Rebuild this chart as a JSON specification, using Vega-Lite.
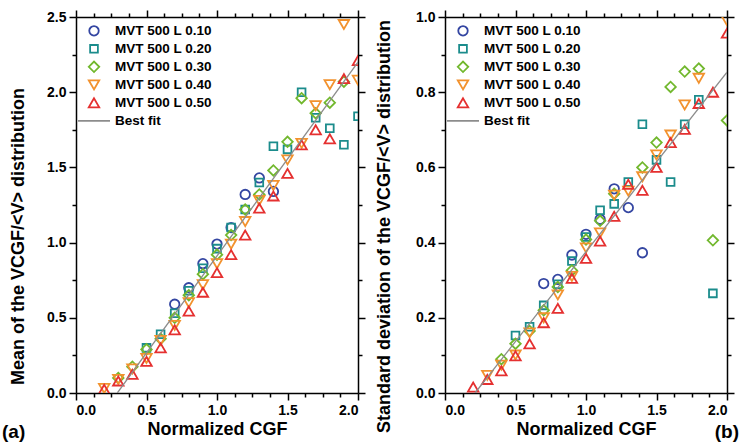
{
  "$schema": "https://vega.github.io/schema/vega-lite/v6.json",
  "background": "white",
  "padding": {"left": 2, "top": 9, "right": 3, "bottom": 0},
  "spacing": 9,
  "config": {
    "font": "Liberation Sans",
    "view": {"stroke": null},
    "axis": {
      "domainColor": "black", "domainWidth": 1.5, "tickColor": "black", "tickWidth": 1.5,
      "labelFont": "Liberation Sans", "labelFontSize": 14, "labelFontWeight": "bold", "labelColor": "black",
      "titleFont": "Liberation Sans", "titleFontSize": 18, "titleFontWeight": "bold", "titleColor": "black",
      "grid": false, "tickSize": 7, "labelPadding": 3
    },
    "legend": {
      "labelFont": "Liberation Sans", "labelFontSize": 13.5, "labelFontWeight": "bold", "labelColor": "black",
      "symbolStrokeWidth": 1.8, "labelOffset": 4, "rowPadding": 0, "padding": 0, "clipHeight": 17.7
    }
  },
  "datasets": {
    "a": [
      {"s":"0.10","x":0.7,"y":0.59},{"s":"0.10","x":0.8,"y":0.70},{"s":"0.10","x":0.9,"y":0.86},{"s":"0.10","x":1.0,"y":0.99},{"s":"0.10","x":1.1,"y":1.10},{"s":"0.10","x":1.2,"y":1.32},{"s":"0.10","x":1.3,"y":1.43},{"s":"0.10","x":1.4,"y":1.34},
      {"s":"0.20","x":0.5,"y":0.30},{"s":"0.20","x":0.6,"y":0.39},{"s":"0.20","x":0.7,"y":0.53},{"s":"0.20","x":0.8,"y":0.68},{"s":"0.20","x":0.9,"y":0.83},{"s":"0.20","x":1.0,"y":0.96},{"s":"0.20","x":1.1,"y":1.10},{"s":"0.20","x":1.2,"y":1.22},{"s":"0.20","x":1.3,"y":1.40},{"s":"0.20","x":1.4,"y":1.64},{"s":"0.20","x":1.5,"y":1.62},{"s":"0.20","x":1.6,"y":2.00},{"s":"0.20","x":1.7,"y":1.83},{"s":"0.20","x":1.8,"y":1.76},{"s":"0.20","x":1.9,"y":1.65},{"s":"0.20","x":2.0,"y":1.84},
      {"s":"0.30","x":0.3,"y":0.10},{"s":"0.30","x":0.4,"y":0.175},{"s":"0.30","x":0.5,"y":0.29},{"s":"0.30","x":0.6,"y":0.36},{"s":"0.30","x":0.7,"y":0.50},{"s":"0.30","x":0.8,"y":0.65},{"s":"0.30","x":0.9,"y":0.79},{"s":"0.30","x":1.0,"y":0.92},{"s":"0.30","x":1.1,"y":1.05},{"s":"0.30","x":1.2,"y":1.22},{"s":"0.30","x":1.3,"y":1.32},{"s":"0.30","x":1.4,"y":1.48},{"s":"0.30","x":1.5,"y":1.67},{"s":"0.30","x":1.6,"y":1.96},{"s":"0.30","x":1.7,"y":1.86},{"s":"0.30","x":1.8,"y":1.93},{"s":"0.30","x":1.9,"y":2.07},
      {"s":"0.40","x":0.2,"y":0.03},{"s":"0.40","x":0.3,"y":0.09},{"s":"0.40","x":0.4,"y":0.16},{"s":"0.40","x":0.5,"y":0.23},{"s":"0.40","x":0.6,"y":0.35},{"s":"0.40","x":0.7,"y":0.45},{"s":"0.40","x":0.8,"y":0.60},{"s":"0.40","x":0.9,"y":0.72},{"s":"0.40","x":1.0,"y":0.86},{"s":"0.40","x":1.1,"y":0.99},{"s":"0.40","x":1.2,"y":1.14},{"s":"0.40","x":1.3,"y":1.28},{"s":"0.40","x":1.4,"y":1.38},{"s":"0.40","x":1.5,"y":1.55},{"s":"0.40","x":1.6,"y":1.66},{"s":"0.40","x":1.7,"y":1.91},{"s":"0.40","x":1.8,"y":2.05},{"s":"0.40","x":1.9,"y":2.45},{"s":"0.40","x":2.0,"y":2.08},
      {"s":"0.50","x":0.2,"y":0.025},{"s":"0.50","x":0.3,"y":0.08},{"s":"0.50","x":0.4,"y":0.124},{"s":"0.50","x":0.5,"y":0.21},{"s":"0.50","x":0.6,"y":0.30},{"s":"0.50","x":0.7,"y":0.42},{"s":"0.50","x":0.8,"y":0.545},{"s":"0.50","x":0.9,"y":0.67},{"s":"0.50","x":1.0,"y":0.80},{"s":"0.50","x":1.1,"y":0.92},{"s":"0.50","x":1.2,"y":1.05},{"s":"0.50","x":1.3,"y":1.23},{"s":"0.50","x":1.4,"y":1.31},{"s":"0.50","x":1.5,"y":1.46},{"s":"0.50","x":1.6,"y":1.65},{"s":"0.50","x":1.7,"y":1.75},{"s":"0.50","x":1.8,"y":1.69},{"s":"0.50","x":1.9,"y":2.09},{"s":"0.50","x":2.0,"y":2.21}
    ],
    "b": [
      {"s":"0.10","x":0.7,"y":0.291},{"s":"0.10","x":0.8,"y":0.302},{"s":"0.10","x":0.9,"y":0.367},{"s":"0.10","x":1.0,"y":0.422},{"s":"0.10","x":1.1,"y":0.462},{"s":"0.10","x":1.2,"y":0.543},{"s":"0.10","x":1.3,"y":0.493},{"s":"0.10","x":1.4,"y":0.373},
      {"s":"0.20","x":0.5,"y":0.153},{"s":"0.20","x":0.6,"y":0.176},{"s":"0.20","x":0.7,"y":0.233},{"s":"0.20","x":0.8,"y":0.289},{"s":"0.20","x":0.9,"y":0.351},{"s":"0.20","x":1.0,"y":0.415},{"s":"0.20","x":1.1,"y":0.486},{"s":"0.20","x":1.2,"y":0.503},{"s":"0.20","x":1.3,"y":0.561},{"s":"0.20","x":1.4,"y":0.715},{"s":"0.20","x":1.5,"y":0.62},{"s":"0.20","x":1.6,"y":0.561},{"s":"0.20","x":1.7,"y":0.715},{"s":"0.20","x":1.8,"y":0.78},{"s":"0.20","x":1.9,"y":0.265},
      {"s":"0.30","x":0.4,"y":0.09},{"s":"0.30","x":0.5,"y":0.131},{"s":"0.30","x":0.6,"y":0.165},{"s":"0.30","x":0.7,"y":0.22},{"s":"0.30","x":0.8,"y":0.282},{"s":"0.30","x":0.9,"y":0.326},{"s":"0.30","x":1.0,"y":0.408},{"s":"0.30","x":1.1,"y":0.458},{"s":"0.30","x":1.2,"y":0.53},{"s":"0.30","x":1.4,"y":0.60},{"s":"0.30","x":1.5,"y":0.666},{"s":"0.30","x":1.6,"y":0.814},{"s":"0.30","x":1.7,"y":0.855},{"s":"0.30","x":1.8,"y":0.863},{"s":"0.30","x":1.9,"y":0.406},{"s":"0.30","x":2.0,"y":0.725},
      {"s":"0.40","x":0.3,"y":0.047},{"s":"0.40","x":0.4,"y":0.074},{"s":"0.40","x":0.5,"y":0.101},{"s":"0.40","x":0.6,"y":0.16},{"s":"0.40","x":0.7,"y":0.20},{"s":"0.40","x":0.8,"y":0.261},{"s":"0.40","x":0.9,"y":0.31},{"s":"0.40","x":1.0,"y":0.386},{"s":"0.40","x":1.1,"y":0.426},{"s":"0.40","x":1.2,"y":0.526},{"s":"0.40","x":1.3,"y":0.537},{"s":"0.40","x":1.4,"y":0.575},{"s":"0.40","x":1.5,"y":0.633},{"s":"0.40","x":1.6,"y":0.686},{"s":"0.40","x":1.7,"y":0.766},{"s":"0.40","x":1.8,"y":0.837},{"s":"0.40","x":2.0,"y":0.99},
      {"s":"0.50","x":0.2,"y":0.016},{"s":"0.50","x":0.3,"y":0.036},{"s":"0.50","x":0.4,"y":0.059},{"s":"0.50","x":0.5,"y":0.099},{"s":"0.50","x":0.6,"y":0.131},{"s":"0.50","x":0.7,"y":0.187},{"s":"0.50","x":0.8,"y":0.225},{"s":"0.50","x":0.9,"y":0.305},{"s":"0.50","x":1.0,"y":0.358},{"s":"0.50","x":1.1,"y":0.404},{"s":"0.50","x":1.2,"y":0.47},{"s":"0.50","x":1.3,"y":0.555},{"s":"0.50","x":1.4,"y":0.539},{"s":"0.50","x":1.5,"y":0.60},{"s":"0.50","x":1.6,"y":0.666},{"s":"0.50","x":1.7,"y":0.701},{"s":"0.50","x":1.8,"y":0.77},{"s":"0.50","x":1.9,"y":0.80},{"s":"0.50","x":2.0,"y":0.957}
    ],
    "fa": [{"s":"Best fit","x":0.293,"y":0},{"s":"Best fit","x":2.0,"y":2.2}],
    "fb": [{"s":"Best fit","x":0.213,"y":0},{"s":"Best fit","x":2.0,"y":0.853}]
  },
  "hconcat": [
    {
      "width": 282, "height": 376,
      "title": {"text": "(a)", "orient": "bottom", "anchor": "start", "frame": "group", "offset": -15, "dx": -74, "fontSize": 19, "fontWeight": "bold", "font": "Liberation Sans", "color": "black"},
      "layer": [
        {
          "data": {"name": "a"},
          "mark": {"type": "point", "filled": false, "strokeWidth": 1.8, "clip": true, "opacity": 1},
          "encoding": {
            "x": {"field": "x", "type": "quantitative", "scale": {"domain": [0, 2], "nice": false}, "axis": {"orient": "bottom", "values": [0, 0.5, 1, 1.5, 2], "format": ".1f", "title": "Normalized CGF", "titlePadding": 3}},
            "y": {"field": "y", "type": "quantitative", "scale": {"domain": [0, 2.5], "nice": false}, "axis": {"orient": "left", "values": [0, 0.5, 1, 1.5, 2, 2.5], "format": ".1f", "title": "Mean of the VCGF/<V> distribution", "titlePadding": 19, "titleY": 219}},
            "color": {"field": "s", "type": "nominal", "scale": {"domain": ["0.10","0.20","0.30","0.40","0.50","Best fit"], "range": ["#3446a2","#1b8c8c","#72b82e","#f2922e","#e53030","#8c8c8c"]}, "legend": {"orient": "none", "legendX": 1, "legendY": 5, "title": null, "labelExpr": "datum.label == 'Best fit' ? 'Best fit' : 'MVT 500 L ' + datum.label"}},
            "shape": {"field": "s", "type": "nominal", "scale": {"domain": ["0.10","0.20","0.30","0.40","0.50","Best fit"], "range": ["circle","square","diamond","triangle-down","triangle-up","stroke"]}, "legend": {"orient": "none", "legendX": 1, "legendY": 5, "title": null, "labelExpr": "datum.label == 'Best fit' ? 'Best fit' : 'MVT 500 L ' + datum.label"}},
            "size": {"field": "s", "type": "nominal", "scale": {"type": "ordinal", "domain": ["0.10","0.20","0.30","0.40","0.50","Best fit"], "range": [90, 60, 110, 110, 110, 1024]}, "legend": {"orient": "none", "legendX": 1, "legendY": 5, "title": null, "labelExpr": "datum.label == 'Best fit' ? 'Best fit' : 'MVT 500 L ' + datum.label"}}
          }
        },
        {
          "data": {"name": "fa"},
          "mark": {"type": "line", "strokeWidth": 1.3, "clip": true},
          "encoding": {
            "x": {"field": "x", "type": "quantitative", "axis": {"orient": "top", "values": [0, 0.5, 1, 1.5, 2], "labels": false, "title": null}},
            "y": {"field": "y", "type": "quantitative", "axis": {"orient": "right", "values": [0, 0.5, 1, 1.5, 2, 2.5], "labels": false, "title": null}},
            "color": {"field": "s", "type": "nominal"}
          }
        },
        {
          "data": {"name": "fa"},
          "mark": {"type": "line", "opacity": 0},
          "encoding": {
            "x": {"field": "x", "type": "quantitative", "axis": {"orient": "bottom", "values": [0.125,0.25,0.375,0.625,0.75,0.875,1.125,1.25,1.375,1.625,1.75,1.875], "labels": false, "domain": false, "tickSize": 4, "title": null}},
            "y": {"field": "y", "type": "quantitative", "axis": {"orient": "left", "values": [0.25,0.75,1.25,1.75,2.25], "labels": false, "domain": false, "tickSize": 4, "title": null}}
          }
        },
        {
          "data": {"name": "fa"},
          "mark": {"type": "line", "opacity": 0},
          "encoding": {
            "x": {"field": "x", "type": "quantitative", "axis": {"orient": "top", "values": [0.125,0.25,0.375,0.625,0.75,0.875,1.125,1.25,1.375,1.625,1.75,1.875], "labels": false, "domain": false, "tickSize": 4, "title": null}},
            "y": {"field": "y", "type": "quantitative", "axis": {"orient": "right", "values": [0.25,0.75,1.25,1.75,2.25], "labels": false, "domain": false, "tickSize": 4, "title": null}}
          }
        }
      ],
      "resolve": {"axis": {"x": "independent", "y": "independent"}}
    },
    {
      "width": 282, "height": 376,
      "title": {"text": "(b)", "orient": "bottom", "anchor": "end", "frame": "group", "offset": -15, "dx": 12, "fontSize": 19, "fontWeight": "bold", "font": "Liberation Sans", "color": "black"},
      "layer": [
        {
          "data": {"name": "b"},
          "mark": {"type": "point", "filled": false, "strokeWidth": 1.8, "clip": true, "opacity": 1},
          "encoding": {
            "x": {"field": "x", "type": "quantitative", "scale": {"domain": [0, 2], "nice": false}, "axis": {"orient": "bottom", "values": [0, 0.5, 1, 1.5, 2], "format": ".1f", "title": "Normalized CGF", "titlePadding": 3}},
            "y": {"field": "y", "type": "quantitative", "scale": {"domain": [0, 1], "nice": false}, "axis": {"orient": "left", "values": [0, 0.2, 0.4, 0.6, 0.8, 1.0], "format": ".1f", "title": "Standard deviation of the VCGF/<V> distribution", "titlePadding": 22, "titleY": 209}},
            "color": {"field": "s", "type": "nominal", "scale": {"domain": ["0.10","0.20","0.30","0.40","0.50","Best fit"], "range": ["#3446a2","#1b8c8c","#72b82e","#f2922e","#e53030","#8c8c8c"]}, "legend": {"orient": "none", "legendX": 1, "legendY": 5, "title": null, "labelExpr": "datum.label == 'Best fit' ? 'Best fit' : 'MVT 500 L ' + datum.label"}},
            "shape": {"field": "s", "type": "nominal", "scale": {"domain": ["0.10","0.20","0.30","0.40","0.50","Best fit"], "range": ["circle","square","diamond","triangle-down","triangle-up","stroke"]}, "legend": {"orient": "none", "legendX": 1, "legendY": 5, "title": null, "labelExpr": "datum.label == 'Best fit' ? 'Best fit' : 'MVT 500 L ' + datum.label"}},
            "size": {"field": "s", "type": "nominal", "scale": {"type": "ordinal", "domain": ["0.10","0.20","0.30","0.40","0.50","Best fit"], "range": [90, 60, 110, 110, 110, 1024]}, "legend": {"orient": "none", "legendX": 1, "legendY": 5, "title": null, "labelExpr": "datum.label == 'Best fit' ? 'Best fit' : 'MVT 500 L ' + datum.label"}}
          }
        },
        {
          "data": {"name": "fb"},
          "mark": {"type": "line", "strokeWidth": 1.3, "clip": true},
          "encoding": {
            "x": {"field": "x", "type": "quantitative", "axis": {"orient": "top", "values": [0, 0.5, 1, 1.5, 2], "labels": false, "title": null}},
            "y": {"field": "y", "type": "quantitative", "axis": {"orient": "right", "values": [0, 0.2, 0.4, 0.6, 0.8, 1.0], "labels": false, "title": null}},
            "color": {"field": "s", "type": "nominal"}
          }
        },
        {
          "data": {"name": "fb"},
          "mark": {"type": "line", "opacity": 0},
          "encoding": {
            "x": {"field": "x", "type": "quantitative", "axis": {"orient": "bottom", "values": [0.125,0.25,0.375,0.625,0.75,0.875,1.125,1.25,1.375,1.625,1.75,1.875], "labels": false, "domain": false, "tickSize": 4, "title": null}},
            "y": {"field": "y", "type": "quantitative", "axis": {"orient": "left", "values": [0.1,0.3,0.5,0.7,0.9], "labels": false, "domain": false, "tickSize": 4, "title": null}}
          }
        },
        {
          "data": {"name": "fb"},
          "mark": {"type": "line", "opacity": 0},
          "encoding": {
            "x": {"field": "x", "type": "quantitative", "axis": {"orient": "top", "values": [0.125,0.25,0.375,0.625,0.75,0.875,1.125,1.25,1.375,1.625,1.75,1.875], "labels": false, "domain": false, "tickSize": 4, "title": null}},
            "y": {"field": "y", "type": "quantitative", "axis": {"orient": "right", "values": [0.1,0.3,0.5,0.7,0.9], "labels": false, "domain": false, "tickSize": 4, "title": null}}
          }
        }
      ],
      "resolve": {"axis": {"x": "independent", "y": "independent"}}
    }
  ],
  "resolve": {
    "scale": {"x": "independent", "y": "independent", "color": "independent", "shape": "independent", "size": "independent"},
    "legend": {"color": "independent", "shape": "independent", "size": "independent"}
  }
}
